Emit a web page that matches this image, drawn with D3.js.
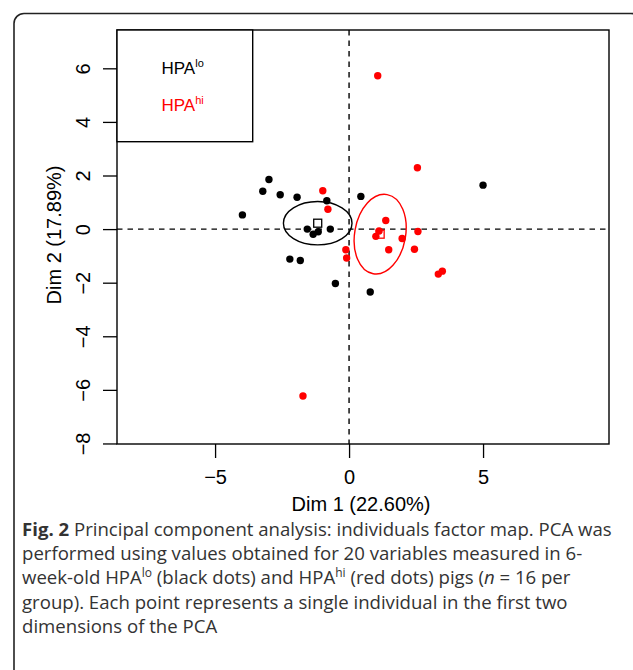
<!DOCTYPE html>
<html>
<head>
<meta charset="utf-8">
<script src="https://cdn.jsdelivr.net/npm/d3@7"></script>
<style>
  body { margin: 0; background: #fff; }
  svg { display: block; }
  .plot text { font-family: "Liberation Sans", Arial, Helvetica, sans-serif; }
  .caption { font-family: "Open Sans", "Noto Sans", sans-serif; fill: #333; }
</style>
</head>
<body>
<div id="chart"></div>
<script>
// PCA individuals factor map, coordinates on Dim 1 / Dim 2
const loDim1 = [-2.99, -3.22, -2.57, -1.94, -0.83, 0.44, -3.98, -1.56, -1.34, -1.15, -0.70, -2.21, -1.82, -0.51, 0.79, 5.00];
const loDim2 = [1.85, 1.41, 1.28, 1.19, 1.06, 1.22, 0.53, 0.00, -0.19, -0.10, 0.00, -1.12, -1.17, -2.03, -2.35, 1.64];
const hiDim1 = [2.55, -0.98, -0.79, 1.37, 1.12, 1.00, 2.57, 1.98, -0.12, -0.09, 1.48, 2.44, 3.33, 3.48, 1.07, -1.72];
const hiDim2 = [2.29, 1.43, 0.74, 0.32, -0.07, -0.27, -0.09, -0.35, -0.77, -1.08, -0.77, -0.75, -1.68, -1.57, 5.72, -6.23];

// group barycentres and confidence ellipses: [cx, cy, semi-axis x, semi-axis y, rotation deg]
const groups = ["lo", "hi"];
const groupColors = ["#000000", "#ff0000"];
const centres = [[-1.17, 0.22], [1.16, -0.19]];
const ellipses = [[-1.17, 0.22, 1.28, 0.81, 0], [1.16, -0.19, 0.95, 1.50, 10]];

const xTicks = [-5, 0, 5];
const yTicks = [-8, -6, -4, -2, 0, 2, 4, 6];
const xDomain = [-8.66, 9.70];
const yDomain = [-8.02, 7.43];

const captionLines = [
  [["b", "Fig. 2"], ["n", " Principal component analysis: individuals factor map. PCA was"]],
  [["n", "performed using values obtained for 20 variables measured in 6-"]],
  [["n", "week-old HPA"], ["sup", "lo"], ["n", " (black dots) and HPA"], ["sup", "hi"], ["n", " (red dots) pigs ("], ["i", "n"], ["n", " = 16 per"]],
  [["n", "group). Each point represents a single individual in the first two"]],
  [["n", "dimensions of the PCA"]]
];

const W = 633, H = 670;
const svg = d3.select("#chart").append("svg").attr("width", W).attr("height", H);

// outer figure frame
svg.append("rect")
  .attr("x", 14).attr("y", 13.5).attr("width", 627).attr("height", 700)
  .attr("rx", 10).attr("fill", "none").attr("stroke", "#222").attr("stroke-width", 1.6);

const x = d3.scaleLinear().domain(xDomain).range([117, 609]);
const y = d3.scaleLinear().domain(yDomain).range([444, 30]);

const plot = svg.append("g").attr("class", "plot");

// dashed reference lines
plot.append("line")
  .attr("x1", x(0)).attr("x2", x(0)).attr("y1", y.range()[1]).attr("y2", y.range()[0])
  .attr("stroke", "#000").attr("stroke-width", 1.4).attr("stroke-dasharray", "5.5,5");
plot.append("line")
  .attr("x1", x.range()[0]).attr("x2", x.range()[1]).attr("y1", y(0)).attr("y2", y(0))
  .attr("stroke", "#000").attr("stroke-width", 1.4).attr("stroke-dasharray", "5.5,5");

// ellipses
plot.selectAll(".ell").data(ellipses).enter().append("ellipse")
  .attr("class", "ell")
  .attr("transform", d => `translate(${x(d[0])},${y(d[1])}) rotate(${d[4]})`)
  .attr("rx", d => x(d[0] + d[2]) - x(d[0]))
  .attr("ry", d => y(d[1]) - y(d[1] + d[3]))
  .attr("fill", "none")
  .attr("stroke", (d, i) => groupColors[i])
  .attr("stroke-width", 1.4);

// points
const loPts = loDim1.map((v, i) => ({ x: v, y: loDim2[i], g: 0 }));
const hiPts = hiDim1.map((v, i) => ({ x: v, y: hiDim2[i], g: 1 }));
plot.selectAll(".pt").data(loPts.concat(hiPts)).enter().append("circle")
  .attr("class", "pt")
  .attr("cx", d => x(d.x)).attr("cy", d => y(d.y))
  .attr("r", 3.7)
  .attr("fill", d => groupColors[d.g]);

// barycentre squares
plot.selectAll(".ctr").data(centres).enter().append("rect")
  .attr("class", "ctr")
  .attr("x", d => x(d[0]) - 4).attr("y", d => y(d[1]) - 4)
  .attr("width", 8).attr("height", 8)
  .attr("fill", "none")
  .attr("stroke", (d, i) => groupColors[i])
  .attr("stroke-width", 1.3);

// box
plot.append("rect")
  .attr("x", x.range()[0]).attr("y", y.range()[1])
  .attr("width", x.range()[1] - x.range()[0]).attr("height", y.range()[0] - y.range()[1])
  .attr("fill", "none").attr("stroke", "#000").attr("stroke-width", 1.4);

// axes
const xAxis = plot.append("g")
  .attr("transform", `translate(0,${y.range()[0]})`)
  .call(d3.axisBottom(x).tickValues(xTicks).tickSize(14).tickPadding(12).tickFormat(d3.format("d")));
const yAxis = plot.append("g")
  .attr("transform", `translate(${x.range()[0]},0)`)
  .call(d3.axisLeft(y).tickValues(yTicks).tickSize(14).tickFormat(d3.format("d")));

[xAxis, yAxis].forEach(ax => {
  ax.select(".domain").remove();
  ax.selectAll(".tick line").attr("stroke", "#000").attr("stroke-width", 1.3);
  ax.selectAll("text").attr("font-size", 20).attr("fill", "#000")
    .attr("font-family", "'Liberation Sans', Arial, sans-serif");
});
yAxis.selectAll("text")
  .attr("x", null).attr("dy", null)
  .attr("text-anchor", "middle")
  .attr("transform", "translate(-27,0) rotate(-90)");

// axis titles
plot.append("text")
  .attr("x", 361).attr("y", 511)
  .attr("text-anchor", "middle").attr("font-size", 20)
  .text("Dim 1 (22.60%)");
plot.append("text")
  .attr("transform", "translate(61,235) rotate(-90)")
  .attr("text-anchor", "middle").attr("font-size", 20)
  .text("Dim 2 (17.89%)");

// legend
plot.append("rect")
  .attr("x", 117).attr("y", 30).attr("width", 135.7).attr("height", 111.7)
  .attr("fill", "#fff").attr("stroke", "#000").attr("stroke-width", 1.4);
groups.forEach((g, i) => {
  const t = plot.append("text")
    .attr("x", 161.5).attr("y", 73.5 + i * 37.5)
    .attr("font-size", 17).attr("fill", groupColors[i]);
  t.append("tspan").text("HPA");
  t.append("tspan").attr("font-size", 11).attr("dy", -7).text(g);
});

// caption
const cap = svg.append("g").attr("class", "caption");
captionLines.forEach((line, li) => {
  const t = cap.append("text")
    .attr("x", 22).attr("y", 536 + li * 24.2)
    .attr("font-size", 18.6);
  let raised = false;
  line.forEach(([kind, str]) => {
    const s = t.append("tspan").text(str);
    if (kind === "b") s.attr("font-weight", "bold");
    if (kind === "i") s.attr("font-style", "italic");
    if (kind === "sup") {
      s.attr("font-size", 12).attr("dy", -7);
      raised = true;
    } else if (raised) {
      s.attr("dy", 7);
      raised = false;
    }
  });
});
</script>
</body>
</html>
